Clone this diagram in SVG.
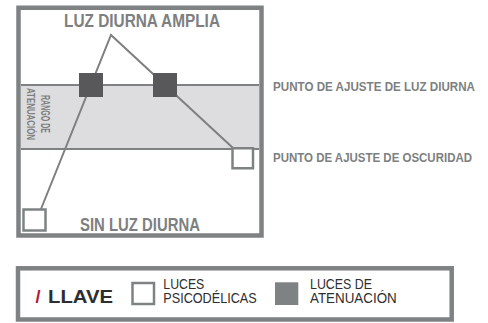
<svg xmlns="http://www.w3.org/2000/svg" width="488" height="323" viewBox="0 0 488 323">
<style>
.frame{fill:none;stroke:#7f8282;stroke-width:4.5}
.band{fill:#dddddf}
.bline{stroke:#7f8282;stroke-width:2}
.conn{stroke:#7d7f80;stroke-width:2;fill:none}
.dark{fill:#58585a}
.light{fill:#ffffff;stroke:#7f8282;stroke-width:2.5}
.lbl{font-family:"Liberation Sans",Arial,sans-serif;font-weight:bold;fill:#7d7f80}
.key{font-family:"Liberation Sans",Arial,sans-serif;fill:#2e2e2e}
</style>
<rect width="488" height="323" fill="#ffffff"/>
<g id="chart">
  <rect class="band" x="21" y="85" width="238" height="64"/>
  <line class="bline" x1="21" y1="85" x2="259" y2="85"/>
  <line class="bline" x1="21" y1="149" x2="259" y2="149"/>
  <rect class="frame" x="18.5" y="7.75" width="243" height="227.75"/>
</g>
<g id="connectors">
  <polyline class="conn" points="41,209 111,35 233,148"/>
</g>
<g id="dimming-light-1"><rect class="dark" x="79" y="73" width="24" height="24"/></g>
<g id="dimming-light-2"><rect class="dark" x="153" y="73" width="24" height="24"/></g>
<g id="dusk-light-1"><rect class="light" x="232.5" y="148.25" width="20.5" height="20"/></g>
<g id="dusk-light-2"><rect class="light" x="23.5" y="209.5" width="22" height="21"/></g>
<g id="labels">
  <text class="lbl" x="64" y="27" font-size="17.5" textLength="156" lengthAdjust="spacingAndGlyphs">LUZ DIURNA AMPLIA</text>
  <text class="lbl" x="80" y="231" font-size="17.5" textLength="120" lengthAdjust="spacingAndGlyphs">SIN LUZ DIURNA</text>
  <text class="lbl" x="273" y="90.5" font-size="13.5" textLength="202" lengthAdjust="spacingAndGlyphs">PUNTO DE AJUSTE DE LUZ DIURNA</text>
  <text class="lbl" x="273" y="161.5" font-size="13.5" textLength="199" lengthAdjust="spacingAndGlyphs">PUNTO DE AJUSTE DE OSCURIDAD</text>
  <text class="lbl" font-size="13" text-anchor="middle" transform="translate(40.5,114) rotate(90)" textLength="38" lengthAdjust="spacingAndGlyphs">RANGO DE</text>
  <text class="lbl" font-size="10.5" text-anchor="middle" transform="translate(27,114) rotate(90)" textLength="52" lengthAdjust="spacingAndGlyphs">ATENUACIÓN</text>
</g>
<g id="legend">
  <rect class="frame" x="18" y="268.3" width="433.7" height="51.2"/>
  <text x="35.5" y="302.5" font-family="Liberation Sans, Arial, sans-serif" font-weight="bold" font-size="18" fill="#b0163a">/</text>
  <text class="key" x="48" y="302.7" font-size="18.5" font-weight="bold" textLength="65" lengthAdjust="spacingAndGlyphs">LLAVE</text>
  <rect class="light" x="132.5" y="283" width="21.5" height="21"/>
  <text class="key" x="163.3" y="289" font-size="15.5" textLength="41" lengthAdjust="spacingAndGlyphs">LUCES</text>
  <text class="key" x="163.3" y="303.3" font-size="15.5" textLength="93.4" lengthAdjust="spacingAndGlyphs">PSICODÉLICAS</text>
  <rect x="275" y="282.3" width="23.3" height="22.7" fill="#7f8282"/>
  <text class="key" x="310" y="289" font-size="15.5" textLength="62" lengthAdjust="spacingAndGlyphs">LUCES DE</text>
  <text class="key" x="310" y="303" font-size="15.5" textLength="86.7" lengthAdjust="spacingAndGlyphs">ATENUACIÓN</text>
</g>
</svg>
